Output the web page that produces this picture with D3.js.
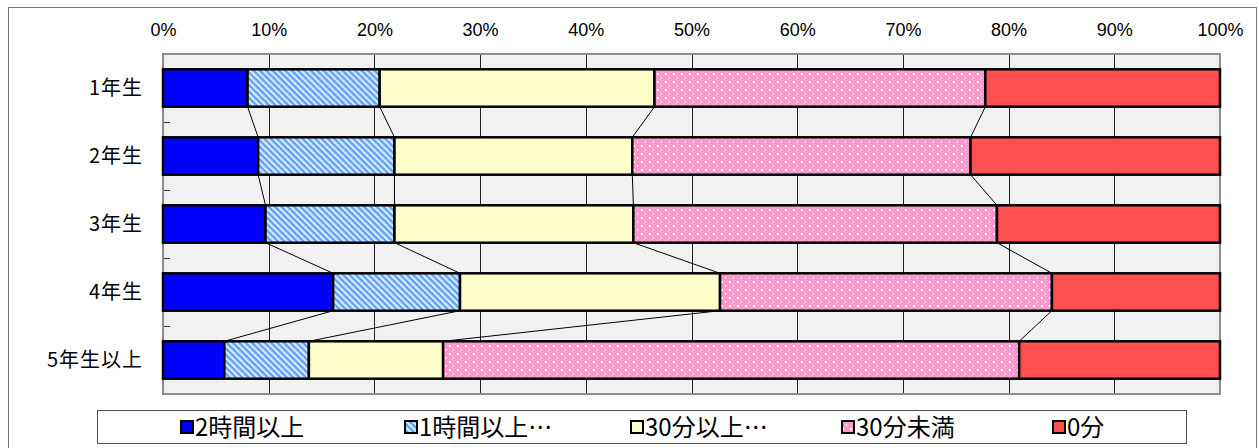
<!DOCTYPE html>
<html>
<head>
<meta charset="utf-8">
<script src="https://cdn.jsdelivr.net/npm/d3@7"></script>
<style>
  body { margin: 0; background: #fff; }
  svg { display: block; }
</style>
</head>
<body>
<div id="chart"></div>
<script>
// grades (rows) and time bands (series)
const categories = ["1年生", "2年生", "3年生", "4年生", "5年生以上"];
const seriesNames = ["2時間以上", "1時間以上…", "30分以上…", "30分未満", "0分"];

// percentages per grade, one array per series
const over2h   = [8.0, 9.0, 9.7, 16.1, 5.8];
const over1h   = [12.5, 12.9, 12.2, 12.0, 8.0];
const over30m  = [26.0, 22.5, 22.6, 24.6, 12.7];
const under30m = [31.3, 32.0, 34.4, 31.4, 54.5];
const zeroMin  = [22.2, 23.6, 21.1, 15.9, 19.0];

const tickValues = [0, 0.1, 0.2, 0.3, 0.4, 0.5, 0.6, 0.7, 0.8, 0.9, 1.0];

const seriesValues = [over2h, over1h, over30m, under30m, zeroMin];
const fills = ["#0000FF", "url(#stripes)", "#FFFFCC", "url(#dots)", "#FF5050"];

const W = 1259, H = 448;
const plot = { left: 163, right: 1220, top: 54, bottom: 394 };

const svg = d3.select("#chart").append("svg")
    .attr("width", W)
    .attr("height", H);

// patterns for the hatched series
const defs = svg.append("defs");
const stripes = defs.append("pattern")
    .attr("id", "stripes")
    .attr("patternUnits", "userSpaceOnUse")
    .attr("width", 4.5).attr("height", 4.5)
    .attr("patternTransform", "rotate(45)");
stripes.append("rect").attr("width", 4.5).attr("height", 4.5).attr("fill", "#D9ECFF");
stripes.append("rect").attr("width", 4.5).attr("height", 2.3).attr("fill", "#619FFF");

const dots = defs.append("pattern")
    .attr("id", "dots")
    .attr("patternUnits", "userSpaceOnUse")
    .attr("width", 8).attr("height", 8);
dots.append("rect").attr("width", 8).attr("height", 8).attr("fill", "#FF99CC");
dots.append("rect").attr("x", 1).attr("y", 1).attr("width", 2).attr("height", 2).attr("fill", "#fff");
dots.append("rect").attr("x", 5).attr("y", 5).attr("width", 1).attr("height", 2).attr("fill", "#fff");

// outer frame
svg.append("rect")
    .attr("x", 8.5).attr("y", 7.5)
    .attr("width", 1248).attr("height", 445)
    .attr("fill", "#fff")
    .attr("stroke", "#777");

const x = d3.scaleLinear().domain([0, 1]).range([plot.left, plot.right]);
const y = d3.scaleBand()
    .domain(categories)
    .range([plot.top, plot.bottom])
    .paddingInner(0.45)
    .paddingOuter(0.225);

// plot background
svg.append("rect")
    .attr("x", plot.left).attr("y", plot.top)
    .attr("width", plot.right - plot.left).attr("height", plot.bottom - plot.top)
    .attr("fill", "#F1F1F1");

// vertical gridlines
svg.append("g")
    .selectAll("line")
    .data(tickValues.slice(1, -1))
    .join("line")
    .attr("x1", d => Math.round(x(d)) + 0.5).attr("x2", d => Math.round(x(d)) + 0.5)
    .attr("y1", plot.top).attr("y2", plot.bottom)
    .attr("stroke", "#222")
    .attr("stroke-width", 1);

// small ticks at the band boundaries on the left axis
const bounds = categories.slice(1).map(c => y(c) - y.step() * y.paddingInner() / 2);
svg.append("g")
    .selectAll("line")
    .data(bounds)
    .join("line")
    .attr("x1", plot.left).attr("x2", plot.left + 7)
    .attr("y1", d => Math.round(d) + 0.5).attr("y2", d => Math.round(d) + 0.5)
    .attr("stroke", "#333");

// plot border
svg.append("rect")
    .attr("x", plot.left).attr("y", plot.top)
    .attr("width", plot.right - plot.left).attr("height", plot.bottom - plot.top)
    .attr("fill", "none")
    .attr("stroke", "#8C8C8C")
    .attr("stroke-width", 2);

// top axis
svg.append("g")
    .attr("transform", `translate(0, ${plot.top - 15})`)
    .call(d3.axisTop(x).tickValues(tickValues).tickFormat(d3.format(".0%")).tickSize(0))
    .call(g => g.select(".domain").remove())
    .call(g => g.selectAll("text")
        .attr("fill", "#000")
        .style("font-family", "'Liberation Sans', Arial, sans-serif")
        .style("font-size", "18px"));

// stack the series
const rows = categories.map((c, i) => {
    const r = { cat: c };
    seriesNames.forEach((s, j) => { r[s] = seriesValues[j][i] / 100; });
    return r;
});
const stacked = d3.stack().keys(seriesNames)(rows);

// series lines between neighbouring bars
const lineData = [];
stacked.slice(0, -1).forEach(layer => {
    for (let i = 0; i < layer.length - 1; i++) {
        lineData.push({
            x1: x(layer[i][1]), y1: y(categories[i]) + y.bandwidth(),
            x2: x(layer[i + 1][1]), y2: y(categories[i + 1])
        });
    }
});
svg.append("g")
    .selectAll("line")
    .data(lineData)
    .join("line")
    .attr("x1", d => d.x1).attr("y1", d => d.y1)
    .attr("x2", d => d.x2).attr("y2", d => d.y2)
    .attr("stroke", "#000")
    .attr("stroke-width", 1);

// bars
svg.append("g")
    .selectAll("g")
    .data(stacked)
    .join("g")
    .attr("fill", (d, i) => fills[i])
    .selectAll("rect")
    .data(d => d)
    .join("rect")
    .attr("x", d => x(d[0]))
    .attr("y", (d, i) => y(categories[i]))
    .attr("width", d => x(d[1]) - x(d[0]))
    .attr("height", y.bandwidth())
    .attr("stroke", "#000")
    .attr("stroke-width", 2.5);

// category labels
svg.append("g")
    .selectAll("text")
    .data(categories)
    .join("text")
    .attr("x", 143)
    .attr("y", d => y(d) + y.bandwidth() / 2)
    .attr("dy", "0.36em")
    .attr("text-anchor", "end")
    .style("font-family", "'Noto Sans CJK JP', sans-serif")
    .style("font-size", "20px")
    .style("letter-spacing", "1px")
    .text(d => d);

// legend
const legendX = [180, 404, 630, 841, 1052];
svg.append("rect")
    .attr("x", 97.5).attr("y", 410.5)
    .attr("width", 1089).attr("height", 33)
    .attr("fill", "#fff")
    .attr("stroke", "#555");

const item = svg.append("g")
    .selectAll("g")
    .data(seriesNames)
    .join("g")
    .attr("transform", (d, i) => `translate(${legendX[i]}, 427)`);
item.append("rect")
    .attr("x", 1).attr("y", -6)
    .attr("width", 12).attr("height", 12)
    .attr("fill", (d, i) => fills[i])
    .attr("stroke", "#000")
    .attr("stroke-width", 2);
item.append("text")
    .attr("x", 15)
    .attr("dy", "0.36em")
    .style("font-family", "'Noto Sans CJK JP', sans-serif")
    .style("font-size", "24px")
    .text(d => d);
</script>
</body>
</html>
